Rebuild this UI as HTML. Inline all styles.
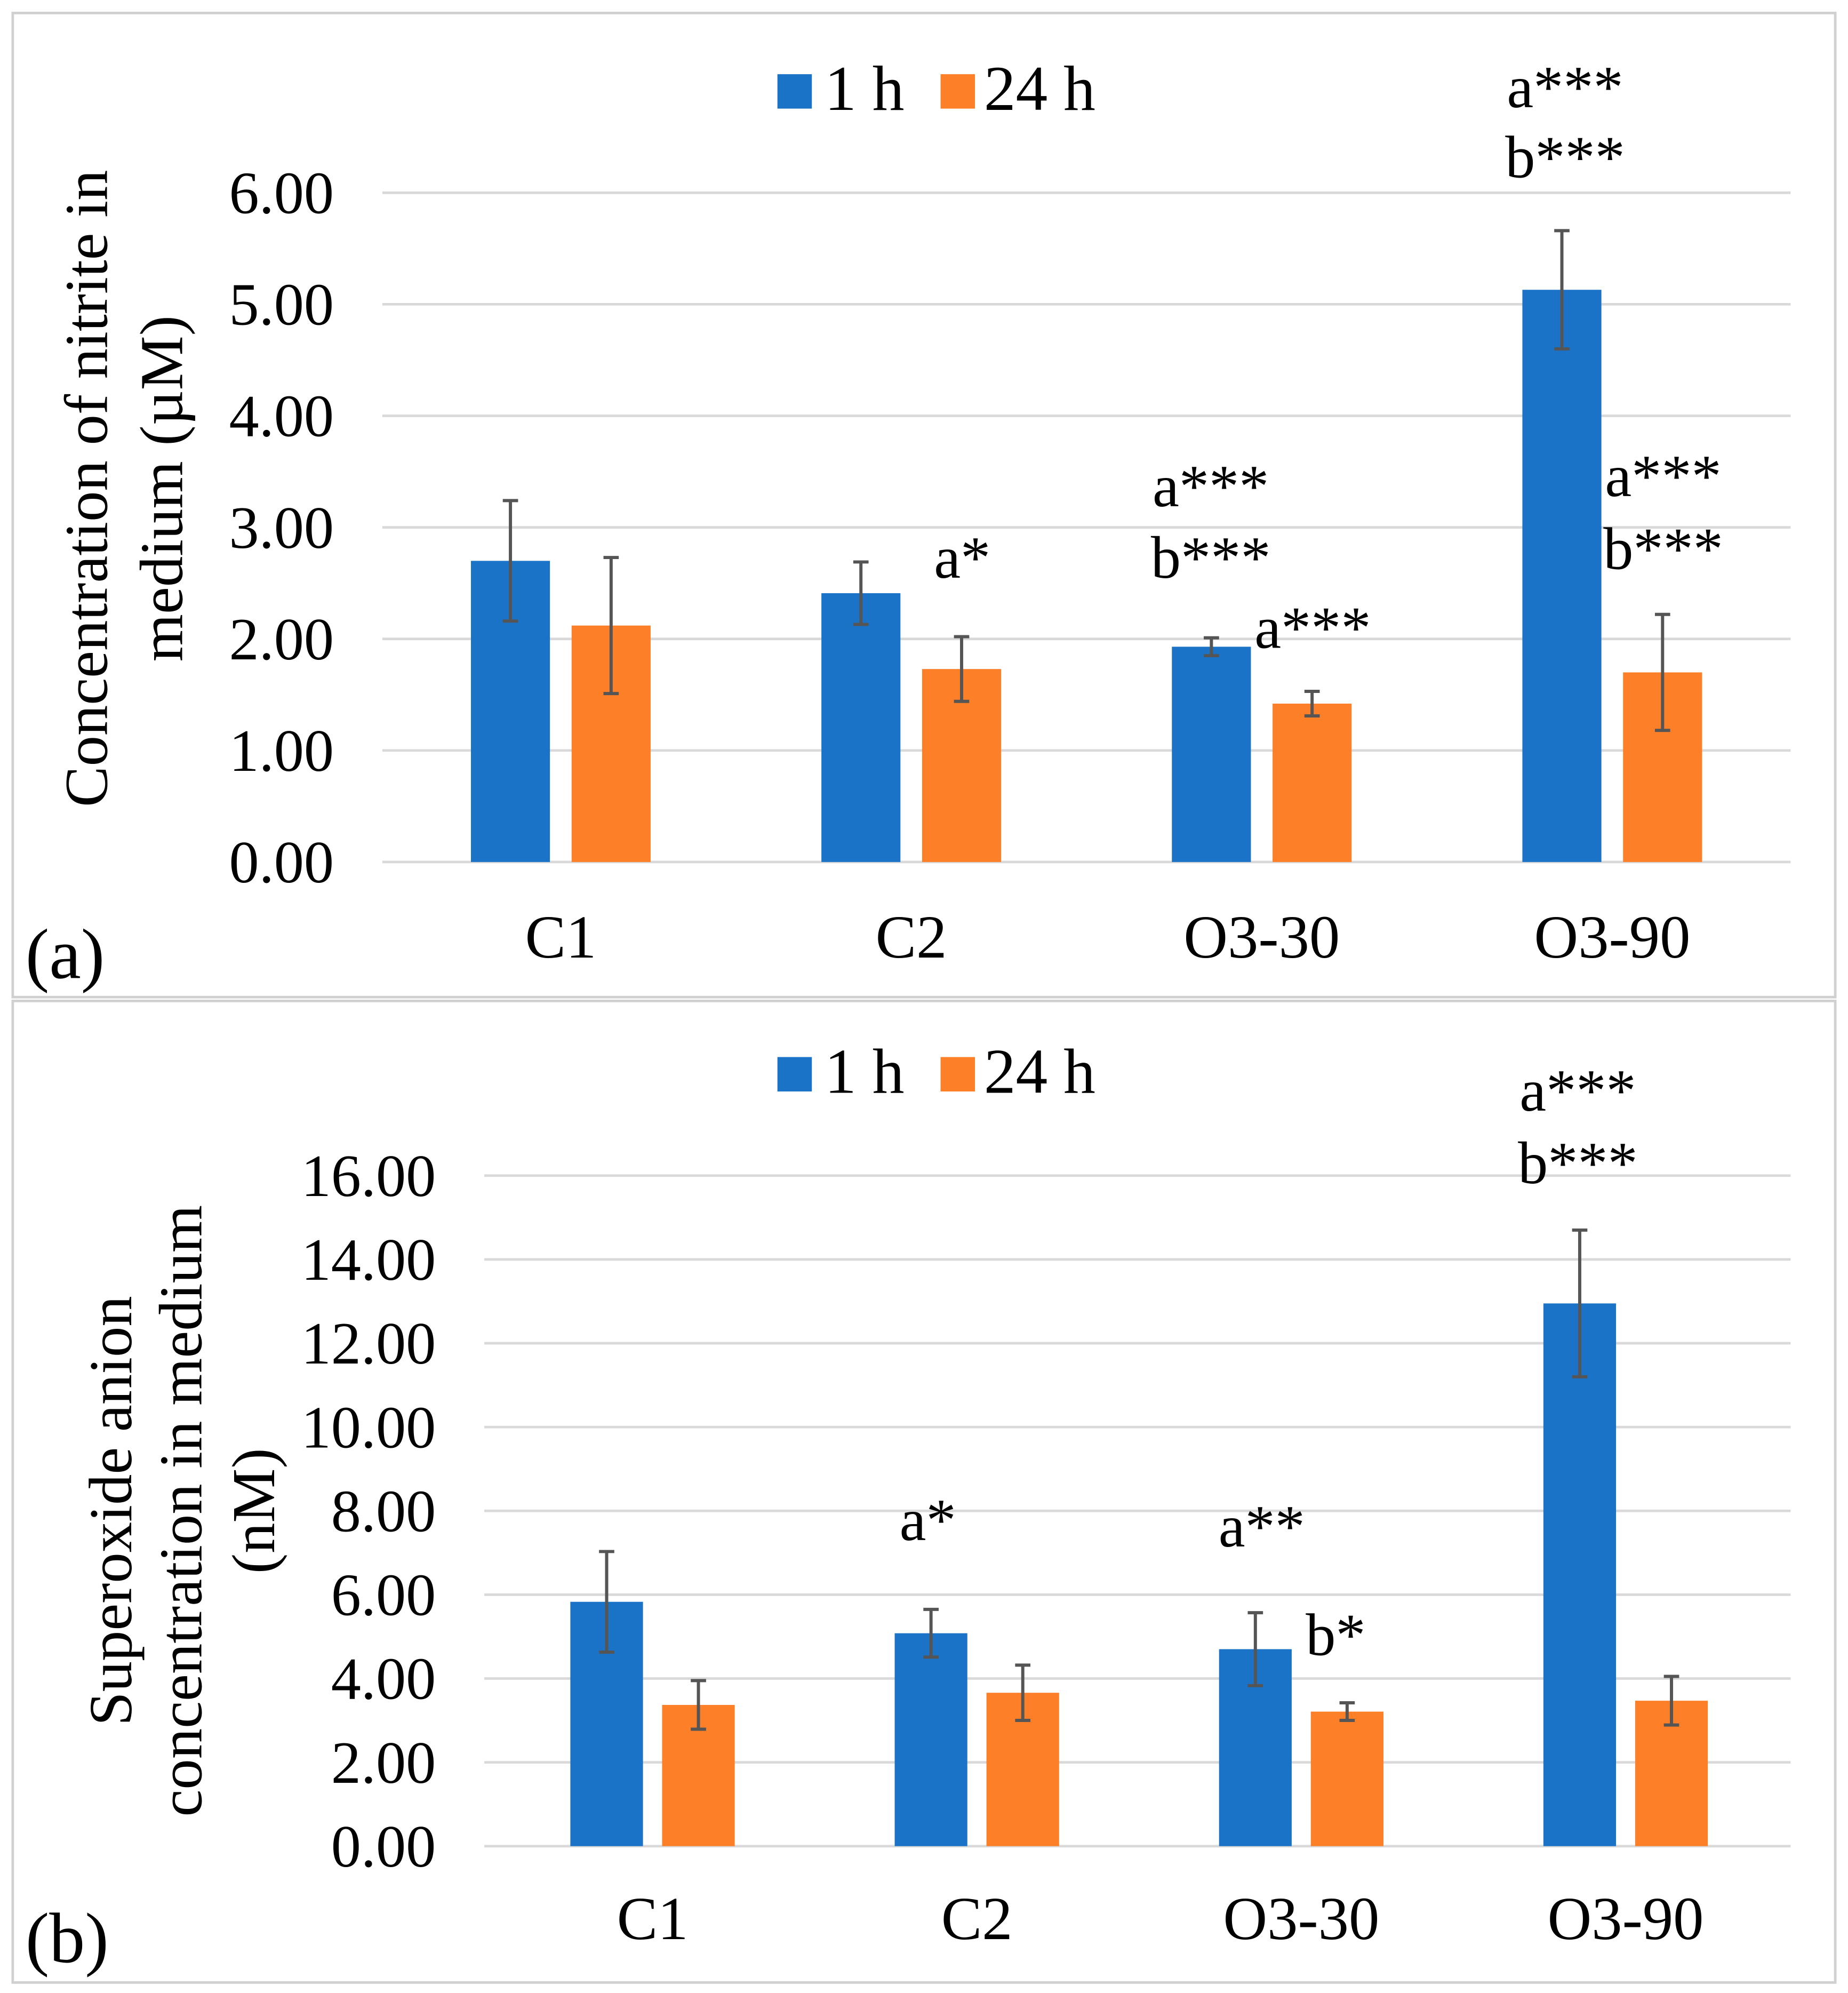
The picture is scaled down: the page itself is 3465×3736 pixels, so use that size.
<!DOCTYPE html>
<html><head><meta charset="utf-8"><style>html,body{margin:0;padding:0;background:#fff}svg{display:block}text{font-family:"Liberation Serif",serif;fill:#000}</style></head>
<body>
<svg id="s" width="3465" height="3736" viewBox="0 0 1450 1563" xmlns="http://www.w3.org/2000/svg">
<rect x="10" y="10" width="1430" height="772" fill="none" stroke="#d0d0d0" stroke-width="2"/>
<rect x="10" y="785" width="1430" height="770" fill="none" stroke="#d0d0d0" stroke-width="2"/>
</svg>
<script>
const categories = ["C1","C2","O3-30","O3-90"];
const aBlue = [2.70,2.41,1.93,5.13];
const aOrange = [2.12,1.73,1.42,1.70];
const aBlueErr = [0.54,0.28,0.08,0.53];
const aOrangeErr = [0.61,0.29,0.11,0.52];
const aTicks = ["0.00","1.00","2.00","3.00","4.00","5.00","6.00"];
const bBlue = [5.83,5.08,4.70,12.95];
const bOrange = [3.37,3.66,3.21,3.47];
const bBlueErr = [1.20,0.57,0.87,1.75];
const bOrangeErr = [0.58,0.66,0.21,0.58];
const bTicks = ["0.00","2.00","4.00","6.00","8.00","10.00","12.00","14.00","16.00"];
const BLUE="#1b73c8", ORANGE="#fd7f28";
const FS=47;
const svg=document.getElementById('s');
function el(tag,attrs,txt){const e=document.createElementNS("http://www.w3.org/2000/svg",tag);for(const k in attrs)e.setAttribute(k,attrs[k]);if(txt!==undefined)e.textContent=txt;svg.appendChild(e);return e;}
function panel(cfg){
  const y=v=>cfg.y0-(v-cfg.vmin)/(cfg.vmax-cfg.vmin)*(cfg.y0-cfg.y1);
  cfg.ticks.forEach(t=>{const v=parseFloat(t);
    const g=el('line',{x1:cfg.gx0,x2:cfg.gx1,y1:y(v),y2:y(v),stroke:'#d9d9d9','stroke-width':2});
    
    
    const l=el('text',{x:cfg.tickX,y:y(v)+16,'text-anchor':'end','font-size':FS},t);
    
    
  });
  const cx=i=>cfg.cx0+i*cfg.step;
  categories.forEach((c,i)=>{
    [[cfg.blue,cfg.blueErr,BLUE,-cfg.off,'1h'],[cfg.orange,cfg.orangeErr,ORANGE,cfg.off,'24h']].forEach(([vals,errs,col,o,nm])=>{
      const x=cx(i)+o-cfg.bw/2;
      const r=el('rect',{x:x,y:y(vals[i]),width:cfg.bw,height:y(0)-y(vals[i]),fill:col});
      
      
      const xm=cx(i)+o,t=y(vals[i]+errs[i]),b=y(vals[i]-errs[i]);
      const e=el('path',{d:`M${xm},${t}V${b}M${xm-6},${t}H${xm+6}M${xm-6},${b}H${xm+6}`,stroke:'#555','stroke-width':2.5,fill:'none'});
      
      
    });
    const l=el('text',{x:cx(i),y:cfg.xlabY,'text-anchor':'middle','font-size':48},c);
    
    
  });
}
panel({y0:676,y1:151,vmin:0,vmax:6,ticks:aTicks,gx0:300,gx1:1405,tickX:262,cx0:440,step:275,off:39.5,bw:62,blue:aBlue,orange:aOrange,blueErr:aBlueErr,orangeErr:aOrangeErr,xlabY:751});
panel({y0:1448,y1:922,vmin:0,vmax:16,ticks:bTicks,gx0:380,gx1:1405,tickX:342,cx0:512,step:254.5,off:36,bw:57,blue:bBlue,orange:bOrange,blueErr:bBlueErr,orangeErr:bOrangeErr,xlabY:1521});
function T(x,y,s,name,anchor,rot,fs){const a={x:x,y:y,'font-size':fs||FS,'text-anchor':anchor||'middle'};if(rot)a.transform=`rotate(-90 ${x} ${y})`;const t=el('text',a,s);return t;}
function legend(yy){
  const r1=el('rect',{x:610,y:yy-28,width:27,height:27,fill:BLUE});
  T(647,yy,'1 h','legend-label-1h','start',false,50);
  const r2=el('rect',{x:738,y:yy-28,width:27,height:27,fill:ORANGE});
  T(772,yy,'24 h','legend-label-24h','start',false,50);
}
legend(86);legend(857);
T(84,383,'Concentration of nitrite in','y-axis-title','middle',true,48);
T(143,383,'medium (µM)','y-axis-title','middle',true,48);
T(103,1185,'Superoxide anion','y-axis-title','middle',true,48);
T(158,1185,'concentration in medium','y-axis-title','middle',true,48);
T(215,1185,'(nM)','y-axis-title','middle',true,48);
T(20,767,'(a)','panel-label-a','start',false,56);
T(20,1539,'(b)','panel-label-b','start',false,56);
[[950,397,'a***'],[950,453,'b***'],[755,453,'a*'],[1030,508,'a***'],[1228,84,'a***'],[1228,139,'b***'],[1305,389,'a***'],[1305,446,'b***'],
 [728,1208,'a*'],[990,1213,'a**'],[1048,1298,'b*'],[1238,871,'a***'],[1238,928,'b***']].forEach(a=>T(a[0],a[1],a[2],'significance-label'));
</script>
</body></html>
